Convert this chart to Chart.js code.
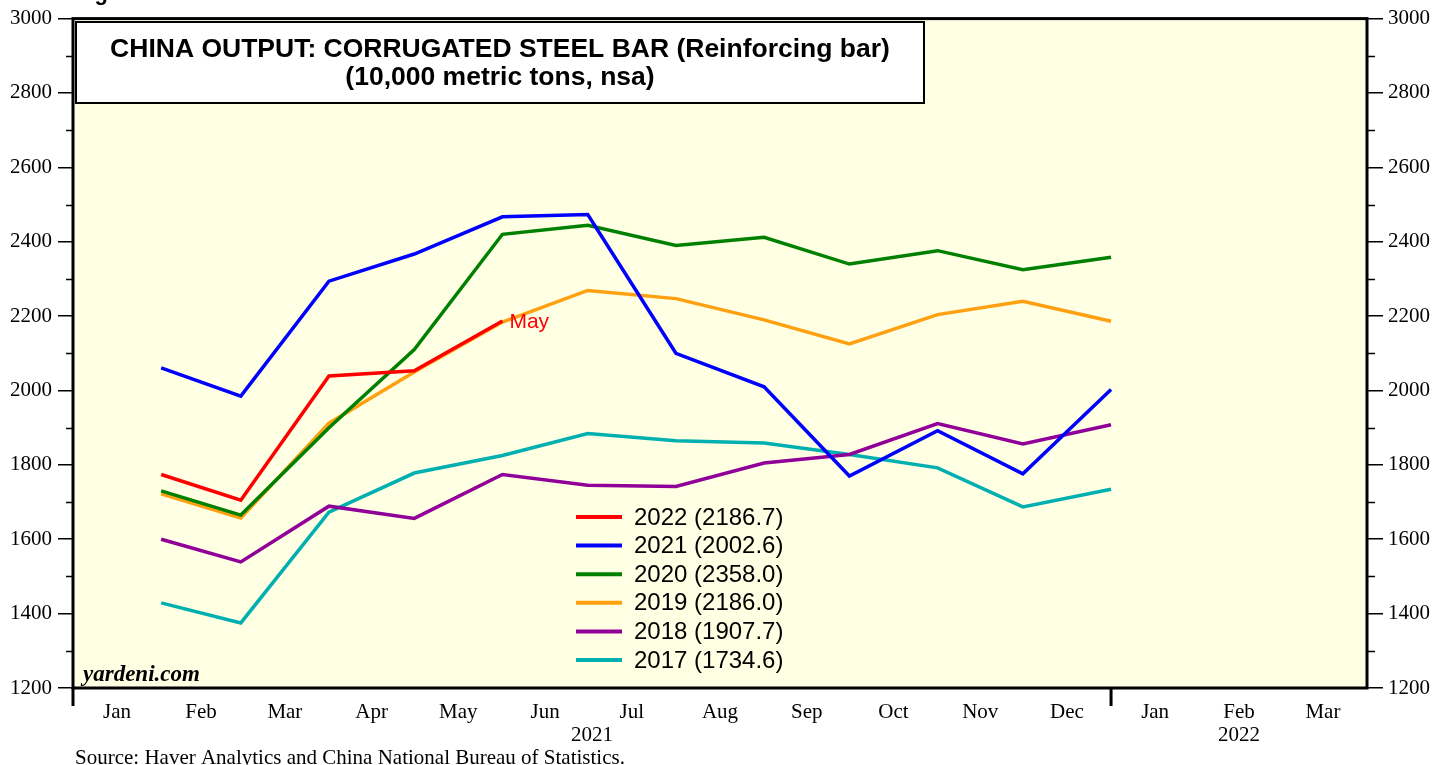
<!DOCTYPE html>
<html>
<head>
<meta charset="utf-8">
<script src="https://cdn.jsdelivr.net/npm/chart.js@4.4.1/dist/chart.umd.min.js"></script>
<style>
  html, body { margin: 0; padding: 0; background: #fff; }
</style>
</head>
<body>
<canvas id="chart" width="1450" height="765"></canvas>
<script>
// axis labels
const monthNames = ['Jan', 'Feb', 'Mar', 'Apr', 'May', 'Jun', 'Jul', 'Aug', 'Sep', 'Oct', 'Nov', 'Dec', 'Jan', 'Feb', 'Mar'];
const monthLengths = [31, 28, 31, 30, 31, 30, 31, 31, 30, 31, 30, 31, 31, 28, 31];
const yearLabels = ['2021', '2022'];
const yMin = 1200;
const yMax = 3000;
const yStep = 200;

// monthly output, 10,000 metric tons (Jan..Dec)
const years = ['2022', '2021', '2020', '2019', '2018', '2017'];
const out2022 = [1774, 1705, 2039, 2053, 2186.7];
const out2021 = [2061, 1985, 2294, 2367, 2467, 2473, 2100, 2010, 1770, 1892, 1776, 2002.6];
const out2020 = [1730, 1665, 1900, 2110, 2420, 2444, 2390, 2412, 2340, 2376, 2325, 2358.0];
const out2019 = [1722, 1657, 1912, 2050, 2184, 2269, 2247, 2190, 2125, 2204, 2240, 2186.0];
const out2018 = [1600, 1539, 1689, 1656, 1774, 1745, 1742, 1805, 1828, 1911, 1856, 1907.7];
const out2017 = [1429, 1375, 1673, 1778, 1825, 1884, 1865, 1859, 1828, 1792, 1687, 1734.6];
const colors = ['#ff0000', '#0000ff', '#008000', '#ffa010', '#900098', '#00b0b0'];

// day positions: month starts, month ends, month centres, year centres
const monthStart = [];
let d = 0;
monthLengths.forEach(len => { monthStart.push(d); d += len; });
const totalDays = d;
const monthEnd = monthStart.map((s, i) => s + monthLengths[i]);
const monthMid = monthStart.map((s, i) => s + monthLengths[i] / 2);
const yearEdge = [0, monthEnd[11], totalDays];
const yearMid = [(yearEdge[0] + yearEdge[1]) / 2, (yearEdge[1] + yearEdge[2]) / 2];

const series = [out2022, out2021, out2020, out2019, out2018, out2017];
const datasets = series.map((vals, i) => ({
  label: years[i] + ' (' + vals[vals.length - 1].toFixed(1) + ')',
  data: vals.map((v, m) => ({ x: monthEnd[m], y: v })),
  borderColor: colors[i],
  backgroundColor: colors[i],
  borderWidth: 3.5,
  pointRadius: 0,
  tension: 0,
  yAxisID: 'y',
}));

const serif = "'Liberation Serif', 'Times New Roman', serif";
const sans = "'Liberation Sans', Arial, sans-serif";

const decor = {
  id: 'decor',
  beforeDraw(chart) {
    const { ctx, chartArea: a } = chart;
    ctx.save();
    ctx.fillStyle = '#ffffe3';
    ctx.fillRect(a.left, a.top, a.right - a.left, a.bottom - a.top);
    ctx.restore();
  },
  afterDraw(chart) {
    const { ctx, chartArea: a, scales } = chart;
    ctx.save();

    // minor ticks on both y axes
    ctx.strokeStyle = '#000';
    ctx.lineWidth = 1.5;
    for (let v = yMin + yStep / 2; v < yMax; v += yStep) {
      const py = Math.round(scales.y.getPixelForValue(v)) + 0.5;
      ctx.beginPath();
      ctx.moveTo(a.left - 7, py); ctx.lineTo(a.left, py);
      ctx.moveTo(a.right, py); ctx.lineTo(a.right + 8, py);
      ctx.stroke();
    }

    // frame
    ctx.lineWidth = 3;
    ctx.strokeRect(a.left, a.top, a.right - a.left, a.bottom - a.top);

    // year separators below the x axis
    ctx.beginPath();
    [yearEdge[0], yearEdge[1]].forEach(v => {
      const px = scales.x.getPixelForValue(v);
      ctx.moveTo(px, a.bottom); ctx.lineTo(px, a.bottom + 18);
    });
    ctx.stroke();

    // title box
    ctx.fillStyle = '#fff';
    ctx.fillRect(76, 22, 848, 81);
    ctx.lineWidth = 2;
    ctx.strokeRect(76, 22, 848, 81);
    ctx.fillStyle = '#000';
    ctx.font = 'bold 26.5px ' + sans;
    ctx.textAlign = 'center';
    ctx.textBaseline = 'middle';
    ctx.fillText('CHINA OUTPUT: CORRUGATED STEEL BAR (Reinforcing bar)', 500, 50);
    ctx.fillText('(10,000 metric tons, nsa)', 500, 78);

    // legend
    ctx.textAlign = 'left';
    ctx.font = '24px ' + sans;
    chart.data.datasets.forEach((ds, i) => {
      const ly = 517 + i * 28.6;
      ctx.strokeStyle = ds.borderColor;
      ctx.lineWidth = 4;
      ctx.beginPath();
      ctx.moveTo(576, ly); ctx.lineTo(622, ly);
      ctx.stroke();
      ctx.fillStyle = '#000';
      ctx.fillText(ds.label, 634, ly + 1);
    });

    // "May" marker at the end of the 2022 line
    const pts = chart.getDatasetMeta(0).data;
    const last = pts[pts.length - 1];
    ctx.fillStyle = '#ff0000';
    ctx.font = '21px ' + sans;
    ctx.fillText(monthNames[out2022.length - 1], last.x + 7, last.y + 1);

    // watermark and source
    ctx.fillStyle = '#000';
    ctx.font = 'italic bold 23px ' + serif;
    ctx.textBaseline = 'alphabetic';
    ctx.fillText('yardeni.com', 83, 681);
    ctx.font = '21px ' + serif;
    ctx.fillText('Source: Haver Analytics and China National Bureau of Statistics.', 75, 764);
    ctx.font = 'bold 22px ' + sans;
    ctx.fillText('Figure', 75, 0);

    ctx.restore();
  }
};

new Chart(document.getElementById('chart'), {
  type: 'line',
  data: { datasets },
  plugins: [decor],
  options: {
    responsive: false,
    animation: false,
    layout: { padding: { top: 15, left: 0, right: 0, bottom: 20 } },
    plugins: { legend: { display: false }, tooltip: { enabled: false } },
    scales: {
      x: {
        type: 'linear',
        position: 'bottom',
        min: 0,
        max: totalDays,
        afterBuildTicks: scale => { scale.ticks = monthMid.map(v => ({ value: v })); },
        afterFit: scale => { scale.height = 35; },
        grid: { display: false, drawTicks: false },
        border: { display: false },
        ticks: {
          autoSkip: false,
          maxRotation: 0,
          padding: 12,
          color: '#000',
          font: { family: serif, size: 21 },
          callback: (v, i) => monthNames[i],
        },
      },
      x2: {
        type: 'linear',
        position: 'bottom',
        min: 0,
        max: totalDays,
        afterBuildTicks: scale => { scale.ticks = yearMid.map(v => ({ value: v })); },
        afterFit: scale => { scale.height = 22; },
        grid: { display: false, drawTicks: false },
        border: { display: false },
        ticks: {
          autoSkip: false,
          maxRotation: 0,
          padding: 0,
          color: '#000',
          font: { family: serif, size: 21 },
          callback: (v, i) => yearLabels[i],
        },
      },
      y: {
        position: 'left',
        min: yMin,
        max: yMax,
        afterFit: scale => { scale.width = 73; },
        grid: { drawOnChartArea: false, tickLength: 15, color: '#000', lineWidth: 1.5 },
        border: { display: false },
        ticks: { stepSize: yStep, padding: 6, color: '#000', font: { family: serif, size: 21 }, callback: v => String(v) },
      },
      y2: {
        position: 'right',
        min: yMin,
        max: yMax,
        afterFit: scale => { scale.width = 83; },
        grid: { drawOnChartArea: false, tickLength: 16, color: '#000', lineWidth: 1.5 },
        border: { display: false },
        ticks: { stepSize: yStep, padding: 5, color: '#000', font: { family: serif, size: 21 }, callback: v => String(v) },
      },
    },
  },
});
</script>
</body>
</html>
